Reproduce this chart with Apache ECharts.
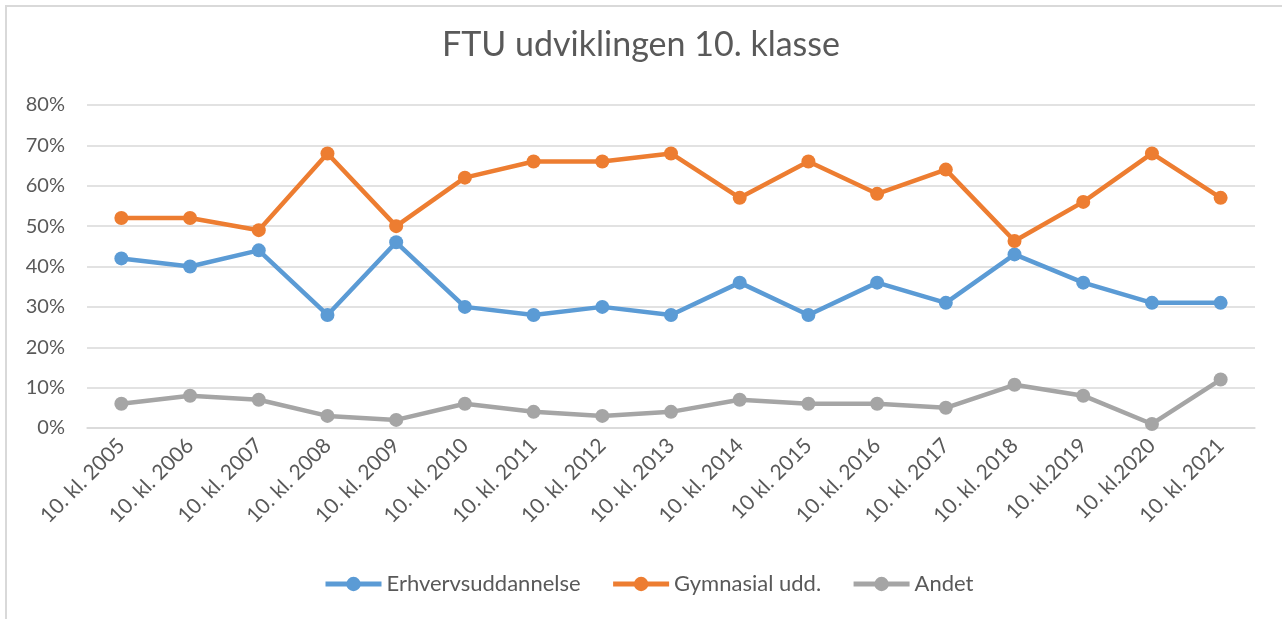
<!DOCTYPE html>
<html>
<head>
<meta charset="utf-8">
<script src="https://cdn.jsdelivr.net/npm/echarts@6/dist/echarts.min.js"></script>
<style>
  html, body { margin: 0; padding: 0; background: #fff; }
  #frame {
    position: absolute; left: 5px; top: 5px; width: 1400px; height: 700px;
    border: 2px solid #d9d9d9; box-sizing: border-box;
  }
  #chart { position: absolute; left: 0; top: 0; width: 1282px; height: 619px; }
</style>
</head>
<body>
<div id="frame"></div>
<div id="chart"></div>
<script>
// kategorier (aargange)
var years = [
  "10. kl. 2005", "10. kl. 2006", "10. kl. 2007", "10. kl. 2008", "10. kl. 2009",
  "10. kl. 2010", "10. kl. 2011", "10. kl. 2012", "10. kl. 2013", "10. kl. 2014",
  "10 kl. 2015", "10. kl. 2016", "10. kl. 2017", "10. kl. 2018", "10. kl.2019",
  "10. kl.2020", "10. kl. 2021"
]
var erhverv = [42, 40, 44, 28, 46, 30, 28, 30, 28, 36, 28, 36, 31, 43, 36, 31, 31]
var gymnasial = [52, 52, 49, 68, 50, 62, 66, 66, 68, 57, 66, 58, 64, 46.3, 56, 68, 57]
var andet = [6, 8, 7, 3, 2, 6, 4, 3, 4, 7, 6, 6, 5, 10.7, 8, 1, 12]
var yTicks = { min: 0, max: 80, step: 10 }

var textColor = "#595959"
var fontFamily = "Lato"

function lineSeries(name, data, color) {
  return {
    name: name,
    type: "line",
    data: data,
    symbol: "circle",
    symbolSize: 14,
    lineStyle: { width: 4.5, color: color },
    itemStyle: { color: color },
    emphasis: { disabled: true },
  }
}

var chart = echarts.init(document.getElementById("chart"))
chart.setOption({
  animation: false,
  textStyle: { fontFamily: fontFamily },
  title: {
    text: "FTU udviklingen 10. klasse",
    left: "center",
    top: 23,
    textStyle: { color: textColor, fontSize: 34, fontWeight: "normal", fontFamily: fontFamily },
  },
  legend: {
    bottom: 19,
    left: 318,
    itemWidth: 56,
    itemHeight: 18,
    itemGap: 30,
    lineStyle: { width: 5 },
    textStyle: { color: textColor, fontSize: 22, fontFamily: fontFamily },
    data: ["Erhvervsuddannelse", "Gymnasial udd.", "Andet"],
  },
  grid: { left: 87, right: 27, top: 105, bottom: 191 },
  xAxis: {
    type: "category",
    data: years,
    boundaryGap: true,
    axisLine: { lineStyle: { color: "#d9d9d9", width: 1.5 } },
    axisTick: { show: false },
    axisLabel: {
      interval: 0,
      rotate: 45,
      margin: 14,
      color: textColor,
      fontSize: 21,
      fontFamily: fontFamily,
    },
  },
  yAxis: {
    type: "value",
    min: yTicks.min,
    max: yTicks.max,
    interval: yTicks.step,
    axisLine: { show: false },
    axisTick: { show: false },
    splitLine: { lineStyle: { color: "#d9d9d9", width: 1.5 } },
    axisLabel: {
      formatter: "{value}%",
      color: textColor,
      fontSize: 20,
      margin: 22,
      fontFamily: fontFamily,
    },
  },
  series: [
    lineSeries("Erhvervsuddannelse", erhverv, "#5b9bd5"),
    lineSeries("Gymnasial udd.", gymnasial, "#ed7d31"),
    lineSeries("Andet", andet, "#a5a5a5"),
  ],
})
</script>
</body>
</html>
